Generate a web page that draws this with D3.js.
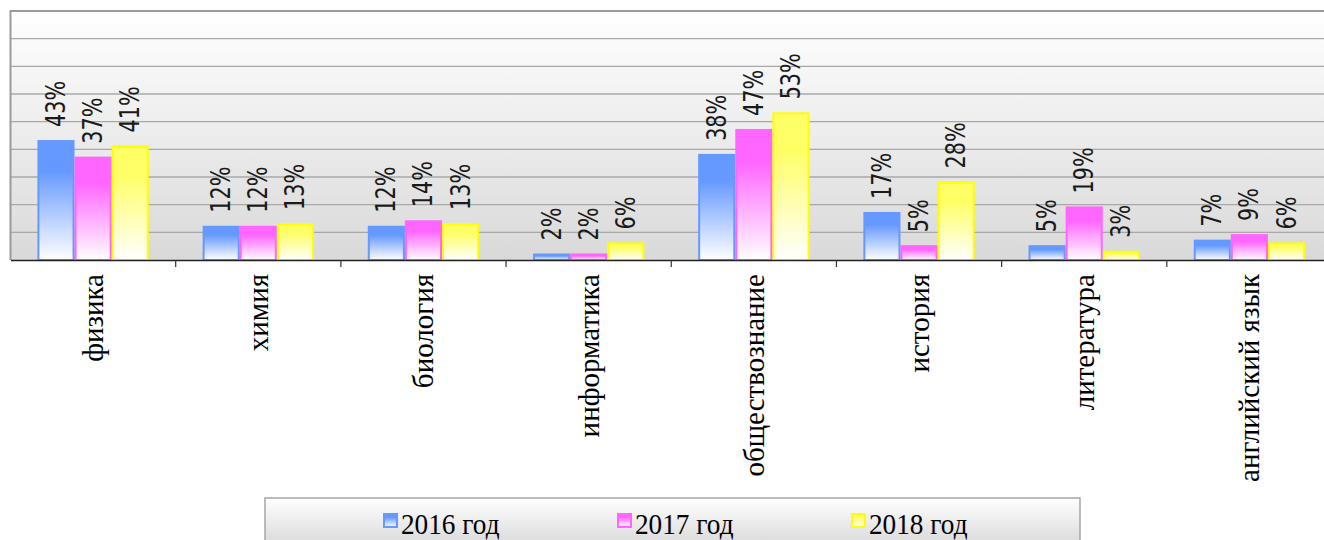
<!DOCTYPE html>
<html>
<head>
<meta charset="utf-8">
<script src="https://cdn.jsdelivr.net/npm/d3@7"></script>
<style>
  html, body { margin: 0; padding: 0; background: #fff; }
  svg { display: block; }
  .serif { font-family: "Liberation Serif", "Times New Roman", serif; }
  .sans { font-family: "DejaVu Sans", Verdana, sans-serif; }
</style>
</head>
<body>
<svg id="chart"></svg>
<script>
const categories = ['физика', 'химия', 'биология', 'информатика', 'обществознание', 'история', 'литература', 'английский язык'];
const seriesNames = ['2016 год', '2017 год', '2018 год'];
const values2016 = [43, 12, 12, 2, 38, 17, 5, 7];
const values2017 = [37, 12, 14, 2, 47, 5, 19, 9];
const values2018 = [41, 13, 13, 6, 53, 28, 3, 6];
const yTicks = [0, 10, 20, 30, 40, 50, 60, 70, 80, 90];

const width = 1324;
const height = 540;
const margin = { top: 11, right: -8, bottom: 280, left: 10.5 };
const colors = [
  { stroke: '#6699ff', fill: '#6699ff' },
  { stroke: '#ff66ff', fill: '#ff66ff' },
  { stroke: '#ffff00', fill: '#ffff66' }
];

const svg = d3.select('#chart').attr('width', width).attr('height', height);
const defs = svg.append('defs');

// градиенты для столбцов
colors.forEach((c, i) => {
  const g = defs.append('linearGradient').attr('id', 'bar' + i)
    .attr('x1', 0).attr('y1', 0).attr('x2', 0).attr('y2', 1);
  g.append('stop').attr('offset', '0%').attr('stop-color', c.fill);
  g.append('stop').attr('offset', '25%').attr('stop-color', c.fill);
  g.append('stop').attr('offset', '100%').attr('stop-color', '#ffffff');
});
const bg = defs.append('linearGradient').attr('id', 'plotBg')
  .attr('x1', 0).attr('y1', 0).attr('x2', 0).attr('y2', 1);
bg.append('stop').attr('offset', '0%').attr('stop-color', '#ffffff');
bg.append('stop').attr('offset', '100%').attr('stop-color', '#d9d9d9');
const lg = defs.append('linearGradient').attr('id', 'legendBg')
  .attr('x1', 0).attr('y1', 0).attr('x2', 0).attr('y2', 1);
lg.append('stop').attr('offset', '0%').attr('stop-color', '#ffffff');
lg.append('stop').attr('offset', '100%').attr('stop-color', '#cfcfcf');

const plotRight = width - margin.right;
const plotBottom = height - margin.bottom;

const x0 = d3.scaleBand()
  .domain(categories)
  .range([margin.left, plotRight])
  .paddingInner(0.326)
  .paddingOuter(0.163);

const x1 = d3.scaleBand()
  .domain(seriesNames)
  .range([0, x0.bandwidth()]);

const y = d3.scaleLinear()
  .domain([0, 90])
  .range([plotBottom, margin.top]);

// фон области построения
svg.append('rect')
  .attr('x', margin.left).attr('y', margin.top)
  .attr('width', plotRight - margin.left).attr('height', plotBottom - margin.top)
  .attr('fill', 'url(#plotBg)');

// сетка
svg.append('g')
  .selectAll('line')
  .data(yTicks.slice(1))
  .enter()
  .append('line')
  .attr('x1', margin.left).attr('x2', plotRight)
  .attr('y1', (d) => y(d)).attr('y2', (d) => y(d))
  .attr('stroke', (d) => d === 90 ? '#9a9a9a' : '#a8a8a8')
  .attr('stroke-width', (d) => d === 90 ? 2 : 1.3);

// левая граница
svg.append('line')
  .attr('x1', margin.left).attr('x2', margin.left)
  .attr('y1', margin.top - 1).attr('y2', plotBottom)
  .attr('stroke', '#9a9a9a').attr('stroke-width', 2);

// столбцы
const seriesData = [values2016, values2017, values2018];
const groups = svg.append('g')
  .selectAll('g')
  .data(categories)
  .enter()
  .append('g')
  .attr('transform', (d) => `translate(${x0(d)},0)`);

groups.selectAll('rect')
  .data((d, ci) => seriesNames.map((s, si) => ({ s, si, v: seriesData[si][ci] })))
  .enter()
  .append('rect')
  .attr('x', (d) => x1(d.s) + 1)
  .attr('y', (d) => y(d.v))
  .attr('width', x1.bandwidth() - 2)
  .attr('height', (d) => plotBottom - y(d.v))
  .attr('fill', (d) => `url(#bar${d.si})`)
  .attr('stroke', (d) => colors[d.si].stroke)
  .attr('stroke-width', 2);

// подписи значений
groups.selectAll('text')
  .data((d, ci) => seriesNames.map((s, si) => ({ s, si, v: seriesData[si][ci] })))
  .enter()
  .append('text')
  .attr('class', 'sans')
  .attr('transform', (d) => `translate(${x1(d.s) + x1.bandwidth() / 2 + 9},${y(d.v) - 14}) rotate(-90) scale(0.8,1)`)
  .attr('font-size', '26px')
  .attr('fill', '#1a1a1a')
  .text((d) => d.v + '%');

// ось X
const xAxis = svg.append('g')
  .attr('transform', `translate(0,${plotBottom})`)
  .call(d3.axisBottom(x0).tickSize(0).tickFormat(''));
xAxis.select('.domain').attr('stroke', '#222').attr('stroke-width', 1.5);

// засечки между категориями
svg.append('g')
  .selectAll('line')
  .data(categories.slice(1))
  .enter()
  .append('line')
  .attr('x1', (d) => x0(d) - x0.step() * 0.163)
  .attr('x2', (d) => x0(d) - x0.step() * 0.163)
  .attr('y1', plotBottom).attr('y2', plotBottom + 7)
  .attr('stroke', '#333').attr('stroke-width', 1.2);

// названия предметов
svg.append('g')
  .selectAll('text')
  .data(categories)
  .enter()
  .append('text')
  .attr('class', 'serif')
  .attr('transform', (d) => `translate(${x0(d) + x0.bandwidth() / 2 + 10},${plotBottom + 14}) rotate(-90)`)
  .attr('text-anchor', 'end')
  .attr('font-size', '29px')
  .attr('fill', '#000')
  .text((d) => d);

// легенда
const legend = svg.append('g');
legend.append('rect')
  .attr('x', 265).attr('y', 498)
  .attr('width', 815).attr('height', 60)
  .attr('fill', 'url(#legendBg)')
  .attr('stroke', '#a6a6a6').attr('stroke-width', 1.5);

const legendItems = legend.selectAll('g.item')
  .data(seriesNames)
  .enter()
  .append('g')
  .attr('class', 'item')
  .attr('transform', (d, i) => `translate(${384 + i * 234},514)`);

legendItems.append('rect')
  .attr('width', 13).attr('height', 13)
  .attr('fill', (d, i) => `url(#bar${i})`)
  .attr('stroke', (d, i) => colors[i].stroke)
  .attr('stroke-width', 2);

legendItems.append('text')
  .attr('class', 'serif')
  .attr('transform', 'translate(17,20) scale(0.94,1)')
  .attr('font-size', '29px')
  .attr('fill', '#000')
  .text((d) => d);
</script>
</body>
</html>
